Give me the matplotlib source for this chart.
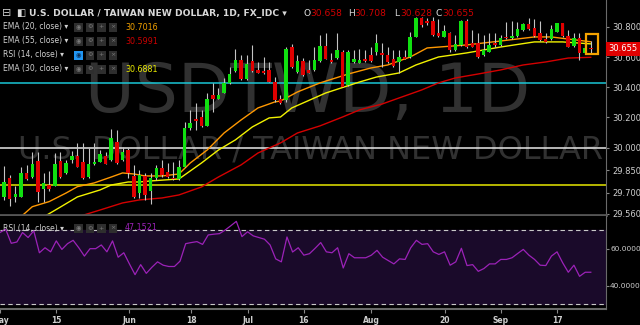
import numpy as np
import pandas as pd
import matplotlib
matplotlib.use("Agg")
import matplotlib.pyplot as plt
from matplotlib.patches import Rectangle

# daily candles, USD/TWD 2018
dates = pd.bdate_range("2018-05-01", "2018-09-25")

opens = [29.660, 29.675, 29.801, 29.671, 29.675, 29.830, 29.803, 29.911, 29.726, 29.750,
         29.746, 29.911, 29.830, 29.918, 29.947, 29.907, 29.803, 29.889, 29.907, 29.947,
         29.918, 30.040, 29.918, 29.985, 29.812, 29.697, 29.812, 29.715, 29.796, 29.863,
         29.841, 29.801, 29.790, 29.874, 30.128, 30.188, 30.205, 30.146, 30.351, 30.325,
         30.364, 30.426, 30.508, 30.581, 30.457, 30.574, 30.515, 30.508, 30.515, 30.437,
         30.323, 30.316, 30.665, 30.504, 30.574, 30.515, 30.515, 30.574, 30.672, 30.578,
         30.592, 30.632, 30.415, 30.570, 30.563, 30.588, 30.614, 30.636, 30.625, 30.614,
         30.586, 30.570, 30.599, 30.599, 30.736, 30.857, 30.842, 30.842, 30.758, 30.736,
         30.758, 30.648, 30.681, 30.842, 30.692, 30.692, 30.614, 30.636, 30.692, 30.681,
         30.736, 30.725, 30.740, 30.780, 30.820, 30.791, 30.762, 30.718, 30.718, 30.769,
         30.824, 30.740, 30.674, 30.725, 30.625, 30.658]
highs = [29.690, 29.878, 29.819, 29.746, 29.874, 29.885, 29.969, 29.973, 29.834, 29.845,
         29.962, 29.973, 29.918, 29.980, 30.033, 30.029, 29.996, 30.029, 29.985, 29.969,
         30.121, 30.117, 30.007, 29.996, 29.885, 29.852, 29.830, 29.830, 29.885, 29.918,
         29.896, 29.907, 29.918, 30.172, 30.250, 30.294, 30.250, 30.360, 30.426, 30.398,
         30.460, 30.537, 30.652, 30.614, 30.614, 30.681, 30.570, 30.603, 30.570, 30.471,
         30.349, 30.670, 30.687, 30.614, 30.592, 30.581, 30.670, 30.747, 30.758, 30.625,
         30.758, 30.648, 30.648, 30.648, 30.652, 30.648, 30.670, 30.754, 30.692, 30.670,
         30.648, 30.648, 30.648, 30.769, 30.868, 30.868, 30.857, 30.868, 30.851, 30.813,
         30.769, 30.747, 30.846, 30.851, 30.780, 30.758, 30.747, 30.758, 30.758, 30.747,
         30.831, 30.842, 30.835, 30.829, 30.857, 30.851, 30.842, 30.758, 30.813, 30.829,
         30.829, 30.780, 30.758, 30.758, 30.714, 30.708]
lows = [29.650, 29.653, 29.610, 29.642, 29.675, 29.786, 29.797, 29.642, 29.642, 29.715,
        29.746, 29.797, 29.825, 29.896, 29.874, 29.790, 29.797, 29.885, 29.903, 29.889,
        29.914, 29.892, 29.912, 29.797, 29.664, 29.664, 29.653, 29.626, 29.785, 29.807,
        29.796, 29.785, 29.785, 29.874, 30.117, 30.117, 30.139, 30.143, 30.238, 30.322,
        30.360, 30.422, 30.504, 30.449, 30.449, 30.504, 30.493, 30.488, 30.437, 30.305,
        30.289, 30.305, 30.526, 30.497, 30.475, 30.493, 30.510, 30.570, 30.585, 30.559,
        30.586, 30.400, 30.409, 30.559, 30.559, 30.570, 30.570, 30.614, 30.537, 30.563,
        30.537, 30.493, 30.586, 30.592, 30.731, 30.802, 30.813, 30.740, 30.736, 30.731,
        30.636, 30.643, 30.676, 30.659, 30.665, 30.592, 30.608, 30.632, 30.670, 30.676,
        30.718, 30.718, 30.736, 30.776, 30.780, 30.736, 30.709, 30.696, 30.714, 30.765,
        30.736, 30.665, 30.670, 30.581, 30.621, 30.628]
closes = [29.675, 29.774, 29.657, 29.691, 29.830, 29.790, 29.889, 29.708, 29.768, 29.724,
          29.889, 29.803, 29.896, 29.947, 29.874, 29.797, 29.892, 29.907, 29.956, 29.892,
          30.062, 29.896, 29.973, 29.830, 29.675, 29.819, 29.686, 29.796, 29.863, 29.818,
          29.803, 29.790, 29.869, 30.132, 30.161, 30.179, 30.143, 30.322, 30.325, 30.349,
          30.426, 30.488, 30.581, 30.457, 30.552, 30.510, 30.497, 30.493, 30.437, 30.316,
          30.294, 30.654, 30.537, 30.574, 30.482, 30.497, 30.581, 30.676, 30.590, 30.570,
          30.648, 30.400, 30.636, 30.586, 30.581, 30.575, 30.575, 30.692, 30.614, 30.570,
          30.541, 30.599, 30.590, 30.736, 30.857, 30.813, 30.829, 30.747, 30.740, 30.773,
          30.648, 30.685, 30.842, 30.665, 30.670, 30.599, 30.648, 30.681, 30.678, 30.729,
          30.725, 30.740, 30.784, 30.820, 30.784, 30.740, 30.714, 30.701, 30.784, 30.824,
          30.740, 30.670, 30.725, 30.630, 30.663, 30.655]

# moving averages (day index, value)
ema20_day = [4, 6, 9, 12, 14, 17, 20, 22, 24, 26, 29, 32, 34, 37, 40, 43, 46, 49, 50, 53,
             57, 62, 66, 69, 73, 76, 83, 89, 95, 98, 101, 105]
ema20 = [29.542, 29.608, 29.642, 29.699, 29.741, 29.766, 29.805, 29.832, 29.825, 29.812,
         29.812, 29.825, 29.898, 29.984, 30.097, 30.183, 30.263, 30.303, 30.309, 30.369,
         30.429, 30.488, 30.528, 30.548, 30.601, 30.661, 30.681, 30.707, 30.734, 30.734,
         30.720, 30.702]
ema30_day = [8, 11, 14, 18, 20, 23, 25, 27, 32, 36, 39, 42, 45, 48, 50, 52, 56, 58, 64, 67,
             71, 74, 78, 83, 89, 95, 100, 105]
ema30 = [29.540, 29.606, 29.673, 29.719, 29.752, 29.772, 29.772, 29.779, 29.792, 29.898,
         29.984, 30.051, 30.137, 30.197, 30.203, 30.263, 30.329, 30.362, 30.435, 30.468,
         30.495, 30.548, 30.601, 30.628, 30.667, 30.701, 30.701, 30.688]
ema55_day = [14, 18, 22, 25, 29, 32, 36, 39, 43, 46, 50, 53, 57, 61, 64, 68, 71, 75, 78, 81,
             85, 89, 93, 97, 101, 105]
ema55 = [29.540, 29.586, 29.633, 29.653, 29.666, 29.686, 29.739, 29.805, 29.885, 29.964,
         30.031, 30.097, 30.144, 30.203, 30.250, 30.289, 30.329, 30.382, 30.429, 30.462,
         30.488, 30.515, 30.548, 30.568, 30.594, 30.599]

rsi = [68.7, 70.5, 62.9, 63.6, 68.7, 66.0, 69.6, 57.8, 60.5, 58.3,
       64.2, 59.6, 62.7, 64.5, 60.5, 56.0, 60.0, 60.0, 62.0, 58.3,
       64.2, 55.4, 57.8, 51.8, 46.0, 51.4, 46.7, 50.0, 52.9, 51.1,
       50.4, 50.4, 53.3, 62.7, 63.3, 63.8, 62.3, 67.4, 67.8, 68.1,
       70.0, 72.3, 74.7, 66.5, 69.1, 66.9, 66.0, 65.1, 62.0, 54.5,
       52.9, 66.3, 58.2, 60.5, 56.5, 57.3, 60.2, 63.3, 58.3, 57.8,
       60.5, 49.6, 57.3, 55.1, 55.1, 55.1, 56.5, 59.1, 55.4, 53.6,
       51.8, 54.5, 54.2, 60.5, 64.5, 62.3, 62.7, 58.3, 56.9, 58.3,
       51.1, 52.9, 60.2, 50.9, 51.4, 47.8, 49.3, 51.8, 51.8, 54.2,
       54.2, 55.1, 57.4, 59.6, 56.5, 54.2, 51.1, 50.9, 56.0, 58.3,
       52.4, 47.3, 51.1, 45.1, 47.3, 47.3]

levels = [30.427, 29.998, 29.750]
level_colors = ["#19c6d6", "#e8e8e8", "#e6e600"]

price_ticks = [30.8, 30.6, 30.4, 30.2, 30.0, 29.85, 29.7, 29.56]
tick_dates = ["2018-05-01", "2018-05-15", "2018-06-01", "2018-06-18", "2018-07-02",
              "2018-07-16", "2018-08-01", "2018-08-20", "2018-09-03", "2018-09-17"]
tick_labels = ["May", "15", "Jun", "18", "Jul", "16", "Aug", "20", "Sep", "17"]

W, H = 640, 325
def fx(p): return p / W
def fy(p): return 1 - p / H

fig = plt.figure(figsize=(6.4, 3.25), dpi=100, facecolor="black")
ax = fig.add_axes([0, 110 / H, 606 / W, 215 / H], facecolor="black")
ax2 = fig.add_axes([0, 16 / H, 606 / W, 93 / H], facecolor="black")

o = np.array(opens); h = np.array(highs); l = np.array(lows); c = np.array(closes)
x = np.arange(len(dates))

# watermark
ax.text(0.507, 0.567, "USDTWD, 1D", transform=ax.transAxes, ha="center", va="center",
        fontsize=49, color="#313131", zorder=0, clip_on=True)
ax.text(0.512, 0.30, "U.S. DOLLAR / TAIWAN NEW DOLLAR", transform=ax.transAxes,
        ha="center", va="center", fontsize=23, color="#313131", zorder=0, clip_on=True)

for lv, col in zip(levels, level_colors):
    ax.axhline(lv, color=col, lw=1.1, zorder=1)

ax.plot(ema55_day, ema55, color="#d40000", lw=1.0, zorder=2)
ax.plot(ema30_day, ema30, color="#f2f200", lw=1.0, zorder=2)
ax.plot(ema20_day, ema20, color="#ff9800", lw=1.0, zorder=2)

up = c >= o
cols = np.where(up, "#10e010", "#e00000")
ax.vlines(x, l, h, color="#c4c4c4", lw=0.8, zorder=3)
ax.bar(x, np.maximum(np.abs(c - o), 0.004), bottom=np.minimum(o, c), width=0.62,
       color=cols, zorder=4)

# highlight around last bar
ax.add_patch(Rectangle((x[-1] - 0.9, l[-1] - 0.008), 2.2, h[-1] - l[-1] + 0.055,
                       fill=False, ec="#f5a300", lw=1.6, zorder=5))

ax.set_xlim(0.28, 107.7)
ax.set_ylim(29.553, 30.979)
ax.yaxis.tick_right()
ax.set_yticks(price_ticks)
ax.set_yticklabels(["%.3f" % v for v in price_ticks])
ax.tick_params(axis="y", colors="#888888", labelcolor="#cfcfcf", labelsize=6, length=2.5, pad=2)
ax.set_xticks([])
for s in ["top", "left"]:
    ax.spines[s].set_visible(False)
ax.spines["right"].set_color("#6a6a6a")
ax.spines["bottom"].set_color("#555555")
ax.spines["bottom"].set_linewidth(2)

ax.text(1.004, c[-1], "%.3f" % c[-1], transform=ax.get_yaxis_transform(), ha="left",
        va="center", fontsize=6, color="white", zorder=10,
        bbox=dict(boxstyle="square,pad=0.3", fc="#e00000", ec="none"))

# RSI panel
ax2.axhspan(30, 70, color="#1a0a2a", zorder=0)
ax2.axhline(70, color="#c8c8c8", lw=0.8, ls=(0, (4, 3)), zorder=1)
ax2.axhline(30, color="#c8c8c8", lw=0.8, ls=(0, (4, 3)), zorder=1)
ax2.plot(x, rsi, color="#9c22b8", lw=0.9, zorder=2)
ax2.set_xlim(0.28, 107.7)
ax2.set_ylim(27.5, 77.6)
ax2.yaxis.tick_right()
ax2.set_yticks([40, 60])
ax2.set_yticklabels(["40.0000", "60.0000"])
ax2.tick_params(axis="y", colors="#888888", labelcolor="#cfcfcf", labelsize=5.3, length=2, pad=1)
tick_pos = dates.get_indexer(pd.to_datetime(tick_dates))
ax2.set_xticks(tick_pos)
ax2.set_xticklabels(tick_labels, fontsize=5.5, fontweight="bold", color="#cfcfcf")
ax2.tick_params(axis="x", colors="#888888", length=3, pad=2)
for lab in ax2.get_xticklabels():
    lab.set_color("#cfcfcf")
ax2.spines["top"].set_visible(False)
ax2.spines["left"].set_visible(False)
ax2.spines["right"].set_color("#6a6a6a")
ax2.spines["bottom"].set_color("#6a6a6a")
ax2.spines["bottom"].set_linewidth(1.5)

# header
fig.text(fx(2), fy(13), "\u229f", fontsize=8, color="#cccccc", va="center")
fig.text(fx(16), fy(13), "\u25e7", fontsize=7, color="#dddddd", va="center")
fig.text(fx(29), fy(13), "U.S. DOLLAR / TAIWAN NEW DOLLAR, 1D, FX_IDC \u25be",
         fontsize=6.6, fontweight="bold", color="#d8d8d8", va="center")
ohlc = [("O", opens[-1], 304), ("H", highs[-1], 348), ("L", lows[-1], 394), ("C", closes[-1], 436)]
for lab, val, px in ohlc:
    fig.text(fx(px), fy(13), lab, fontsize=6.6, color="#d8d8d8", va="center")
    fig.text(fx(px + 6), fy(13), "%.3f" % val, fontsize=6.6, color="#d00000", va="center")

def legend_row(py, label, value, vcol, blue_eye=False):
    fig.text(fx(3), fy(py), label + " \u25be", fontsize=5.5, color="#d0d0d0", va="center")
    glyphs = ["\u25c9", "\u2699", "+", "\u00d7"]
    for k, g in enumerate(glyphs):
        bx = 74 + k * 11.5
        fc = "#2196f3" if (blue_eye and k == 0) else "#2e2e2e"
        fig.patches.append(Rectangle((fx(bx), fy(py + 4.5)), 8.5 / W, 9 / H,
                                     transform=fig.transFigure, fc=fc, ec="none"))
        gc = "#0b2a50" if (blue_eye and k == 0) else "#7a7a7a"
        fig.text(fx(bx + 4.25), fy(py), g, fontsize=4.5, color=gc, ha="center", va="center")
    if value is not None:
        fig.text(fx(125), fy(py), value, fontsize=5.8, color=vcol, va="center")

legend_row(27, "EMA (20, close)", "%.4f" % 30.7016, "#f0a000")
legend_row(41, "EMA (55, close)", "%.4f" % 30.5991, "#cc0000")
legend_row(55, "RSI (14, close)", None, None, blue_eye=True)
legend_row(69, "EMA (30, close)", "%.4f" % 30.6881, "#e8e800")
legend_row(228, "RSI (14, close)", "%.4f" % 47.1521, "#9c22b8")

fig.savefig("out.png", dpi=100, facecolor="black")
